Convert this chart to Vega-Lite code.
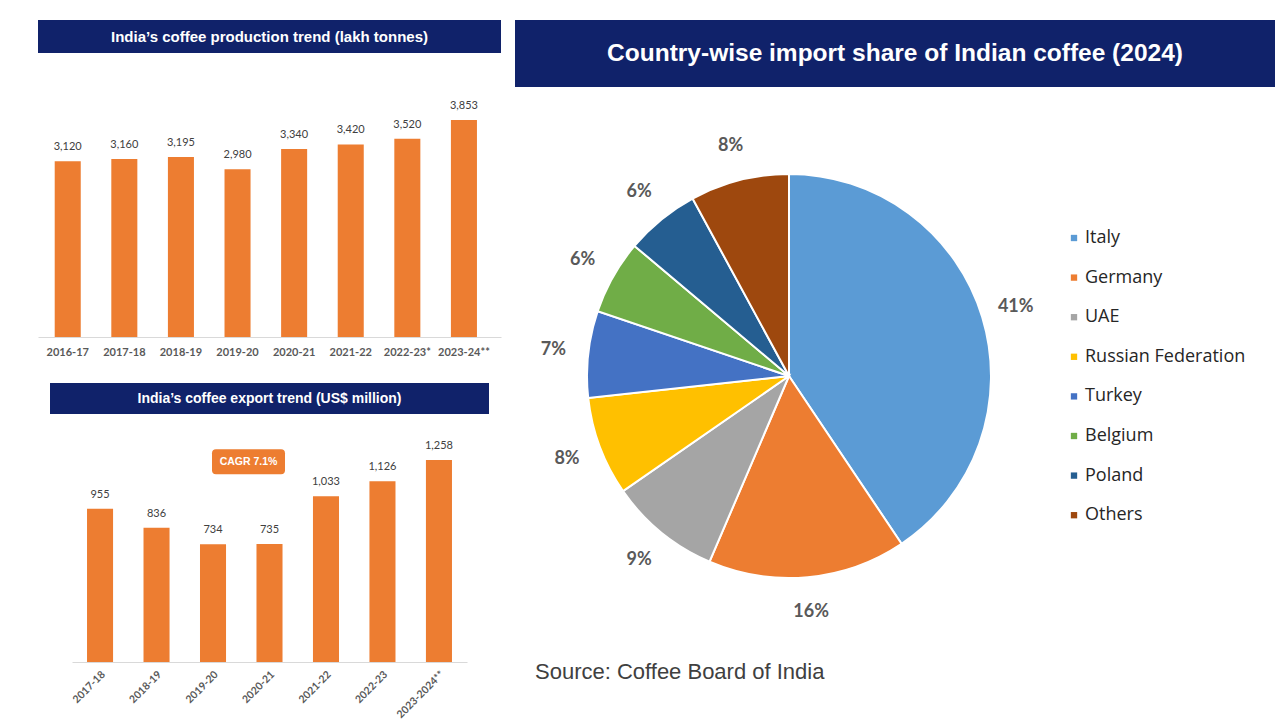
{
  "$schema": "https://vega.github.io/schema/vega-lite/v6.json",
  "background": "white",
  "padding": {"left": 38, "top": 20, "right": 5, "bottom": 0},
  "config": {"view": {"stroke": null}, "font": "Lato"},
  "spacing": 14,
  "hconcat": [
    {
      "spacing": 46,
      "center": true,
      "bounds": "flush",
      "vconcat": [
        {
          "width": 463,
          "height": 33,
          "view": {"fill": "#10226A", "stroke": null},
          "data": {"values": [{"title": "India’s coffee production trend (lakh tonnes)"}]},
          "mark": {"type": "text", "color": "white", "font": "Liberation Sans", "fontWeight": "bold", "fontSize": 15},
          "encoding": {"text": {"field": "title"}}
        },
        {
          "width": 463,
          "height": 238,
          "data": {"values": [
            {"year": "2016-17", "value": 3120},
            {"year": "2017-18", "value": 3160},
            {"year": "2018-19", "value": 3195},
            {"year": "2019-20", "value": 2980},
            {"year": "2020-21", "value": 3340},
            {"year": "2021-22", "value": 3420},
            {"year": "2022-23*", "value": 3520},
            {"year": "2023-24**", "value": 3853}
          ]},
          "encoding": {
            "x": {"field": "year", "type": "nominal", "sort": null,
              "scale": {"paddingInner": 0.54, "paddingOuter": 0.36, "align": 0.41},
              "axis": {"title": null, "labelAngle": 0, "ticks": false, "domainColor": "#D9D9D9", "labelColor": "#595959", "labelFontSize": 11, "labelFont": "Lato", "labelFontWeight": "bold", "labelPadding": 9}},
            "y": {"field": "value", "type": "quantitative", "scale": {"domain": [0, 4226]}, "axis": null}
          },
          "layer": [
            {"mark": {"type": "bar", "color": "#ED7D31"}},
            {"mark": {"type": "text", "baseline": "middle", "dy": -14, "fontSize": 11, "color": "#404040"},
             "encoding": {"text": {"field": "value", "type": "quantitative", "format": ","}}}
          ]
        },
        {
          "width": 439,
          "height": 31,
          "view": {"fill": "#10226A", "stroke": null},
          "data": {"values": [{"title": "India’s coffee export trend (US$ million)"}]},
          "mark": {"type": "text", "color": "white", "font": "Liberation Sans", "fontWeight": "bold", "fontSize": 14},
          "encoding": {"text": {"field": "title"}}
        },
        {
          "width": 395,
          "height": 202,
          "encoding": {
            "x": {"field": "year", "type": "nominal", "sort": null,
              "scale": {"paddingInner": 0.539, "paddingOuter": 0.266},
              "axis": {"title": null, "labelAngle": -45, "ticks": false, "domainColor": "#D9D9D9", "labelColor": "#595959", "labelFontSize": 10.5, "labelFont": "Lato", "labelFontWeight": "bold", "labelPadding": 7}},
            "y": {"field": "value", "type": "quantitative", "scale": {"nice": false}, "axis": null}
          },
          "layer": [
            {
              "data": {"values": [
                {"year": "2017-18", "value": 955},
                {"year": "2018-19", "value": 836},
                {"year": "2019-20", "value": 734},
                {"year": "2020-21", "value": 735},
                {"year": "2021-22", "value": 1033},
                {"year": "2022-23", "value": 1126},
                {"year": "2023-2024**", "value": 1258}
              ]},
              "layer": [
                {"mark": {"type": "bar", "color": "#ED7D31"}},
                {"mark": {"type": "text", "baseline": "middle", "dy": -14, "fontSize": 11, "color": "#404040"},
                 "encoding": {"text": {"field": "value", "type": "quantitative", "format": ","}}}
              ]
            },
            {
              "data": {"values": [{"year": "2020-21", "value": 1247, "label": "CAGR 7.1%"}]},
              "layer": [
                {"mark": {"type": "point", "filled": true, "opacity": 1, "color": "#ED7D31", "size": 5329, "xOffset": -21,
                  "shape": "M-0.89,-0.342H0.89Q1,-0.342 1,-0.232V0.232Q1,0.342 0.89,0.342H-0.89Q-1,0.342 -1,0.232V-0.232Q-1,-0.342 -0.89,-0.342Z"}},
                {"mark": {"type": "text", "color": "white", "fontWeight": "bold", "font": "Liberation Sans", "fontSize": 10.5, "xOffset": -21, "baseline": "middle"},
                 "encoding": {"text": {"field": "label"}}}
              ]
            }
          ]
        }
      ]
    },
    {
      "spacing": 0,
      "vconcat": [
        {
          "width": 760,
          "height": 67,
          "view": {"fill": "#10226A", "stroke": null},
          "data": {"values": [{"title": "Country-wise import share of Indian coffee (2024)"}]},
          "mark": {"type": "text", "color": "white", "font": "Liberation Sans", "fontWeight": "bold", "fontSize": 24.5},
          "encoding": {"text": {"field": "title"}}
        },
        {
          "width": 548,
          "height": 578,
          "title": {"text": "Source: Coffee Board of India", "orient": "bottom", "anchor": "start", "frame": "group", "offset": -3, "dx": 20, "fontSize": 22, "font": "Liberation Sans", "fontWeight": "normal", "color": "#404040", "baseline": "top"},
          "data": {"values": [
            {"country": "Italy", "share": 0.41, "rank": 1},
            {"country": "Germany", "share": 0.16, "rank": 2},
            {"country": "UAE", "share": 0.09, "rank": 3},
            {"country": "Russian Federation", "share": 0.08, "rank": 4},
            {"country": "Turkey", "share": 0.07, "rank": 5},
            {"country": "Belgium", "share": 0.06, "rank": 6},
            {"country": "Poland", "share": 0.06, "rank": 7},
            {"country": "Others", "share": 0.08, "rank": 8}
          ]},
          "encoding": {
            "theta": {"field": "share", "type": "quantitative", "stack": true},
            "order": {"field": "rank", "type": "quantitative"}
          },
          "layer": [
            {
              "mark": {"type": "arc", "outerRadius": 202, "stroke": "white", "strokeWidth": 2},
              "encoding": {
                "color": {"field": "country", "type": "nominal",
                  "scale": {"domain": ["Italy", "Germany", "UAE", "Russian Federation", "Turkey", "Belgium", "Poland", "Others"],
                            "range": ["#5B9BD5", "#ED7D31", "#A5A5A5", "#FFC000", "#4472C4", "#70AD47", "#255E91", "#9E480E"]},
                  "legend": {"orient": "right", "offset": -419, "padding": 209, "title": null, "symbolType": "square", "symbolSize": 40, "symbolStrokeWidth": 0, "labelFontSize": 18, "labelFont": "Open Sans", "labelColor": "#262626", "labelLimit": 400, "rowPadding": 21.6, "labelOffset": 2}}
              }
            },
            {
              "mark": {"type": "text", "radius": 237, "fontSize": 18, "fontWeight": "bold", "color": "#595959", "font": "Lato"},
              "encoding": {
                "detail": {"field": "country", "type": "nominal"},
                "text": {"field": "share", "type": "quantitative", "format": ".0%"}
              }
            }
          ]
        }
      ]
    }
  ]
}
